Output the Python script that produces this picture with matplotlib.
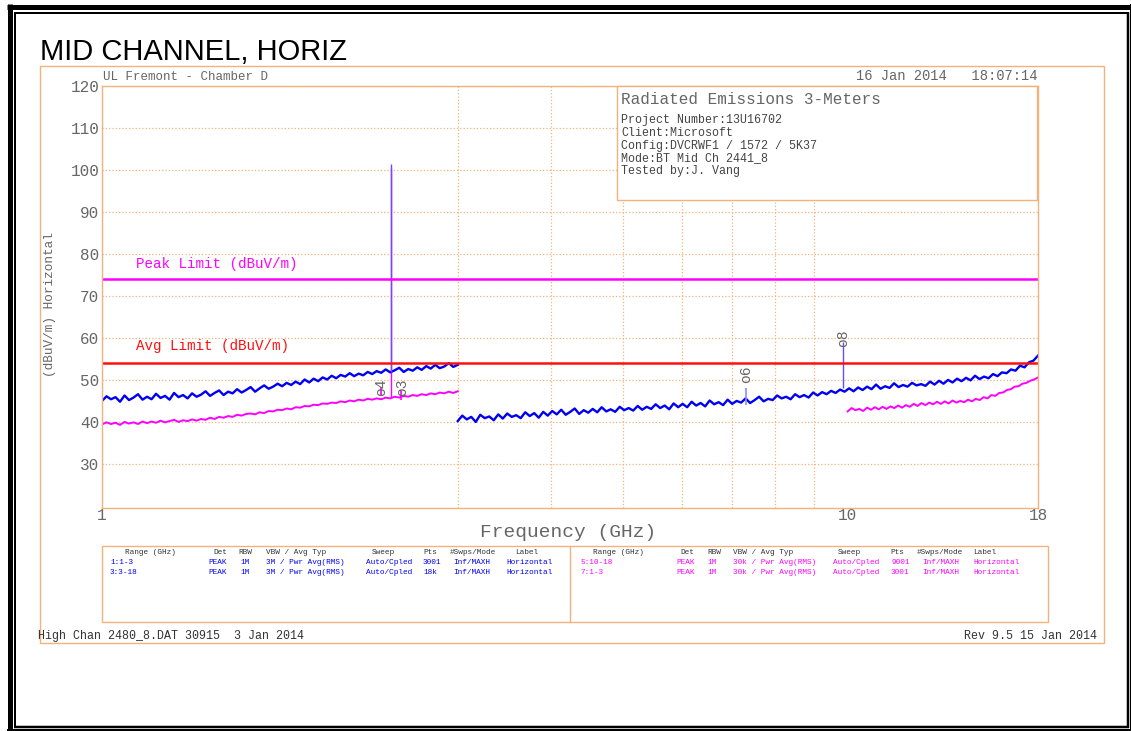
import matplotlib
matplotlib.use('Agg')
import matplotlib.pyplot as plt
import numpy as np
from matplotlib.patches import Rectangle

# trace 1 (blue, 1-3 GHz peak)
blue_low = [45.0, 46.1, 45.4, 45.9, 44.8, 46.3, 45.2, 45.8, 46.6, 45.3,
            46.0, 45.4, 46.7, 45.7, 46.2, 45.3, 46.9, 45.9, 46.4, 45.6,
            46.8, 46.0, 46.5, 47.3, 46.2, 46.9, 47.5, 46.4, 47.2, 46.8,
            47.8, 47.0, 47.6, 48.3, 47.2, 48.0, 48.7, 47.9, 48.4, 49.1,
            48.5, 49.3, 48.8, 49.6, 49.0, 50.1, 49.4, 50.3, 49.7, 50.6,
            50.1, 51.0, 50.4, 51.2, 50.8, 51.6, 50.9, 51.5, 51.1, 51.9,
            51.4, 52.1, 51.7, 52.5, 51.8, 52.3, 52.9, 51.9, 52.6, 52.2,
            53.0, 52.4, 53.3, 52.7, 53.6, 52.8, 53.2, 54.0, 53.1, 53.6]

# trace 7 (magenta, 1-3 GHz average)
mag_low = [39.4, 39.9, 39.5, 39.8, 39.3, 40.0, 39.6, 39.9, 39.5, 40.1,
           39.7, 40.1, 39.8, 40.3, 39.9, 40.2, 40.5, 40.0, 40.4, 40.2,
           40.6, 40.3, 40.7, 40.5, 41.0, 40.7, 41.2, 41.0, 41.4, 41.2,
           41.7, 41.5, 41.9, 42.0, 41.8, 42.3, 42.1, 42.6, 42.5, 42.9,
           42.8, 43.2, 43.0, 43.5, 43.4, 43.8, 43.7, 44.1, 44.0, 44.4,
           44.3, 44.6, 44.5, 44.9, 44.7, 45.1, 44.9, 45.3, 45.1, 45.5,
           45.3, 45.6, 45.4, 45.8, 45.6, 46.0, 45.8, 46.2, 46.0, 46.4,
           46.2, 46.6, 46.4, 46.8, 46.6, 47.0, 46.8, 47.2, 46.9, 47.3]

# trace 3 (blue, 3-18 GHz peak)
blue_high = [40.2, 41.5, 40.6, 41.2, 40.0, 41.7, 40.9, 41.3, 40.4, 41.8,
             40.8, 42.0, 41.2, 41.6, 40.9, 42.3, 41.4, 42.1, 41.0, 42.4,
             41.5, 42.6, 41.8, 42.9, 41.7, 42.4, 43.2, 41.9, 42.8, 42.2,
             43.1, 42.3, 43.5, 42.5, 43.0, 42.4, 43.6, 42.8, 43.3, 42.7,
             43.8, 42.9, 43.6, 43.1, 44.2, 43.3, 43.9, 43.0, 44.4, 43.5,
             44.3, 43.5, 44.8, 43.9, 44.5, 43.7, 45.1, 44.2, 44.7, 44.0,
             45.3, 44.3, 45.0, 44.6, 45.6, 44.5, 45.2, 46.0, 44.9, 45.5,
             45.2, 46.3, 45.6, 46.0, 45.4, 46.6, 45.9, 46.4, 45.8, 47.0,
             46.3, 47.1, 46.6, 47.4, 46.9, 47.7, 47.2, 48.0, 47.3, 48.2,
             47.6, 48.4, 47.8, 48.9, 47.9, 48.5, 48.1, 49.2, 48.3, 48.8,
             48.4, 49.3, 48.7, 49.0, 48.6, 49.6, 48.9, 49.8, 49.1, 50.0,
             49.4, 50.3, 49.7, 50.5, 49.9, 51.0, 50.2, 50.8, 50.4, 51.4,
             50.9, 51.8, 51.6, 52.5, 52.2, 53.4, 53.0, 54.2, 54.6, 55.8]

# trace 5 (magenta, 10-18 GHz average)
mag_high = [42.5, 43.3, 42.8, 43.1, 42.6, 43.4, 42.9, 43.5, 43.0, 43.6,
            43.1, 43.7, 43.3, 43.9, 43.4, 44.0, 43.6, 44.3, 43.8, 44.5,
            44.0, 44.6, 44.2, 44.8, 44.3, 44.9, 44.4, 45.1, 44.6, 45.0,
            44.7, 45.3, 44.9, 45.5, 45.2, 45.9, 45.6, 46.4, 46.2, 46.9,
            47.0, 47.6, 47.8, 48.4, 48.5, 49.1, 49.3, 49.8, 50.1, 50.6]

f_low = np.geomspace(1, 3, len(blue_low))
f_high = np.geomspace(3, 18, len(blue_high))
f_mag_high = np.geomspace(10, 18, len(mag_high))

# narrow spikes: freq, base, top
blue_spike_f = [2.441, 9.85]
blue_spike_base = [52.0, 48.0]
blue_spike_top = [101.5, 59.0]
mag_spike_f = [2.441]
mag_spike_base = [46.0]
mag_spike_top = [100.5]

peak_limit = 74
avg_limit = 54

# markers: label, freq, level of marker symbol; stems below some markers
marker_labels = ['4', '3', '6', '8']
marker_f = [2.365, 2.53, 7.3, 9.85]
marker_y = [46.2, 46.2, 49.3, 57.9]
stem_f = [2.365, 2.52, 7.3]
stem_lo = [46.4, 45.2, 44.0]
stem_hi = [48.3, 47.6, 48.0]
stem_col = ['#ff00ff', '#ff00ff', '#8c8cff']

grid_f = [3, 4, 5, 6, 7, 8, 9, 10]
y_ticks = [30, 40, 50, 60, 70, 80, 90, 100, 110, 120]

table_head = ['Range (GHz)', 'Det', 'RBW', 'VBW / Avg Typ', 'Sweep', 'Pts', '#Swps/Mode', 'Label']
left_rows = [['1:1-3', 'PEAK', '1M', '3M / Pwr Avg(RMS)', 'Auto/Cpled', '3001', 'Inf/MAXH', 'Horizontal'],
             ['3:3-18', 'PEAK', '1M', '3M / Pwr Avg(RMS)', 'Auto/Cpled', '18k', 'Inf/MAXH', 'Horizontal']]
right_rows = [['5:10-18', 'PEAK', '1M', '30k / Pwr Avg(RMS)', 'Auto/Cpled', '9001', 'Inf/MAXH', 'Horizontal'],
              ['7:1-3', 'PEAK', '1M', '30k / Pwr Avg(RMS)', 'Auto/Cpled', '3001', 'Inf/MAXH', 'Horizontal']]

orange = '#f2b27c'
grey = '#666666'
blue = '#0000f5'
magenta = '#ff00ff'
red = '#ff1010'
mono = ['Liberation Mono', 'DejaVu Sans Mono']

W, H = 1131, 731
fig = plt.figure(figsize=(W / 100, H / 100), dpi=100)

ax = fig.add_axes([102 / W, 1 - 508 / H, 936 / W, 422 / H])
ax.set_xscale('log')
ax.set_xlim(1, 18)
ax.set_ylim(19.5, 120)

ax.plot(f_low, mag_low, color=magenta, lw=1.4)
ax.plot(f_mag_high, mag_high, color=magenta, lw=1.4)
ax.vlines(mag_spike_f, mag_spike_base, mag_spike_top, color=magenta, lw=1)
ax.plot(f_low, blue_low, color=blue, lw=1.7)
ax.plot(f_high, blue_high, color=blue, lw=1.7)
ax.vlines(blue_spike_f, blue_spike_base, blue_spike_top, color='#6a4cff', lw=1)
ax.vlines(stem_f, stem_lo, stem_hi, colors=stem_col, lw=1.2)

ax.axhline(peak_limit, color=magenta, lw=1.8)
ax.axhline(avg_limit, color=red, lw=1.8)
ax.text(1.11, peak_limit + 3.6, 'Peak Limit (dBuV/m)', color=magenta,
        fontsize=10.3, family=mono, va='center')
ax.text(1.11, avg_limit + 4.1, 'Avg Limit (dBuV/m)', color=red,
        fontsize=10.3, family=mono, va='center')

for lab, f, y in zip(marker_labels, marker_f, marker_y):
    ax.text(f, y, 'o' + lab, rotation=90, color=grey, fontsize=10.5,
            family=mono, ha='center', va='bottom')

ax.set_xticks([1, 10, 18])
ax.set_xticklabels(['1', '10', '18'])
ax.set_xticks(grid_f, minor=True)
ax.xaxis.set_minor_formatter(matplotlib.ticker.NullFormatter())
ax.set_yticks(y_ticks)
ax.tick_params(which='both', length=0, labelsize=11.5, labelcolor=grey, pad=2)
ax.tick_params(axis='x', pad=0)
for t in ax.get_xticklabels() + ax.get_yticklabels():
    t.set_family(mono)
ax.grid(which='minor', axis='x', color=orange, ls=':', lw=0.9)
ax.grid(which='major', axis='y', color=orange, ls=':', lw=0.9)
for s in ax.spines.values():
    s.set_color(orange)
    s.set_linewidth(1)

ax.set_xlabel('Frequency (GHz)', fontsize=14, family=mono, color=grey, va='center')
ax.xaxis.set_label_coords(0.498, -0.057)
ax.set_ylabel('(dBuV/m) Horizontal', fontsize=9.2, family=mono, color=grey, va='center')
ax.yaxis.set_label_coords(-0.0556, 0.481)

# page overlay in pixel coordinates
page = fig.add_axes([0, 0, 1, 1], zorder=5)
page.set_xlim(0, W)
page.set_ylim(H, 0)
page.axis('off')

px = 0.72
page.plot([7, W], [6.5, 6.5], color='black', lw=5 * px, solid_capstyle='butt')
page.plot([9.5, 9.5], [4, H], color='black', lw=5 * px, solid_capstyle='butt')
page.plot([14, 1129], [12.5, 12.5], color='black', lw=2 * px, solid_capstyle='butt')
page.plot([15, 15], [12, 728], color='black', lw=2 * px, solid_capstyle='butt')
page.plot([1128, 1128], [12, 728], color='black', lw=2.5 * px, solid_capstyle='butt')
page.plot([1130.5, 1130.5], [4, H], color='black', lw=2 * px, solid_capstyle='butt')
page.plot([14, 1129], [727, 727], color='black', lw=2.5 * px, solid_capstyle='butt')
page.plot([7, W], [730, 730], color='black', lw=2 * px, solid_capstyle='butt')

page.text(40, 60, 'MID CHANNEL, HORIZ', fontsize=21, family='Liberation Sans',
          color='black', va='baseline')
page.add_patch(Rectangle((40, 66), 1064, 577, fill=False, edgecolor=orange, lw=1))
page.text(103, 77, 'UL Fremont - Chamber D', fontsize=9, family=mono, color=grey, va='center')
page.text(1037, 76, '16 Jan 2014   18:07:14', fontsize=9.9, family=mono, color=grey,
          va='center', ha='right')

page.add_patch(Rectangle((617, 86), 420, 114, facecolor='white', edgecolor=orange, lw=1))
page.text(621, 99, 'Radiated Emissions 3-Meters', fontsize=11.5, family=mono,
          color=grey, va='center')
info = ['Project Number:13U16702', 'Client:Microsoft', 'Config:DVCRWF1 / 1572 / 5K37',
        'Mode:BT Mid Ch 2441_8', 'Tested by:J. Vang']
for i, line in enumerate(info):
    page.text(621, 120 + 12.8 * i, line, fontsize=8.4, family=mono, color='#444444', va='center')

# settings table
page.add_patch(Rectangle((102, 546), 946, 76, fill=False, edgecolor=orange, lw=1))
page.plot([570, 570], [546, 622], color=orange, lw=1)
left_head_x = [125, 213, 238, 266, 372, 423, 450, 515]
left_row_x = [110, 208, 240, 266, 366, 423, 453, 506]
right_head_x = [593, 680, 707, 733, 838, 890, 917, 973]
right_row_x = [580, 676, 707, 733, 833, 891, 922, 973]
for hx, txt in zip(left_head_x, table_head):
    page.text(hx, 553, txt, fontsize=5.6, family=mono, color='#333333', va='center')
for hx, txt in zip(right_head_x, table_head):
    page.text(hx, 553, txt, fontsize=5.6, family=mono, color='#333333', va='center')
for r, row in enumerate(left_rows):
    for rx, txt in zip(left_row_x, row):
        page.text(rx, 563 + 9 * r, txt, fontsize=5.6, family=mono, color=blue, va='center')
for r, row in enumerate(right_rows):
    for rx, txt in zip(right_row_x, row):
        page.text(rx, 563 + 9 * r, txt, fontsize=5.6, family=mono, color=magenta, va='center')

page.text(38, 636, 'High Chan 2480_8.DAT 30915  3 Jan 2014', fontsize=8.4, family=mono,
          color='#333333', va='center')
page.text(1097, 636, 'Rev 9.5 15 Jan 2014', fontsize=8.4, family=mono,
          color='#333333', va='center', ha='right')

fig.savefig('out.png', dpi=100)
